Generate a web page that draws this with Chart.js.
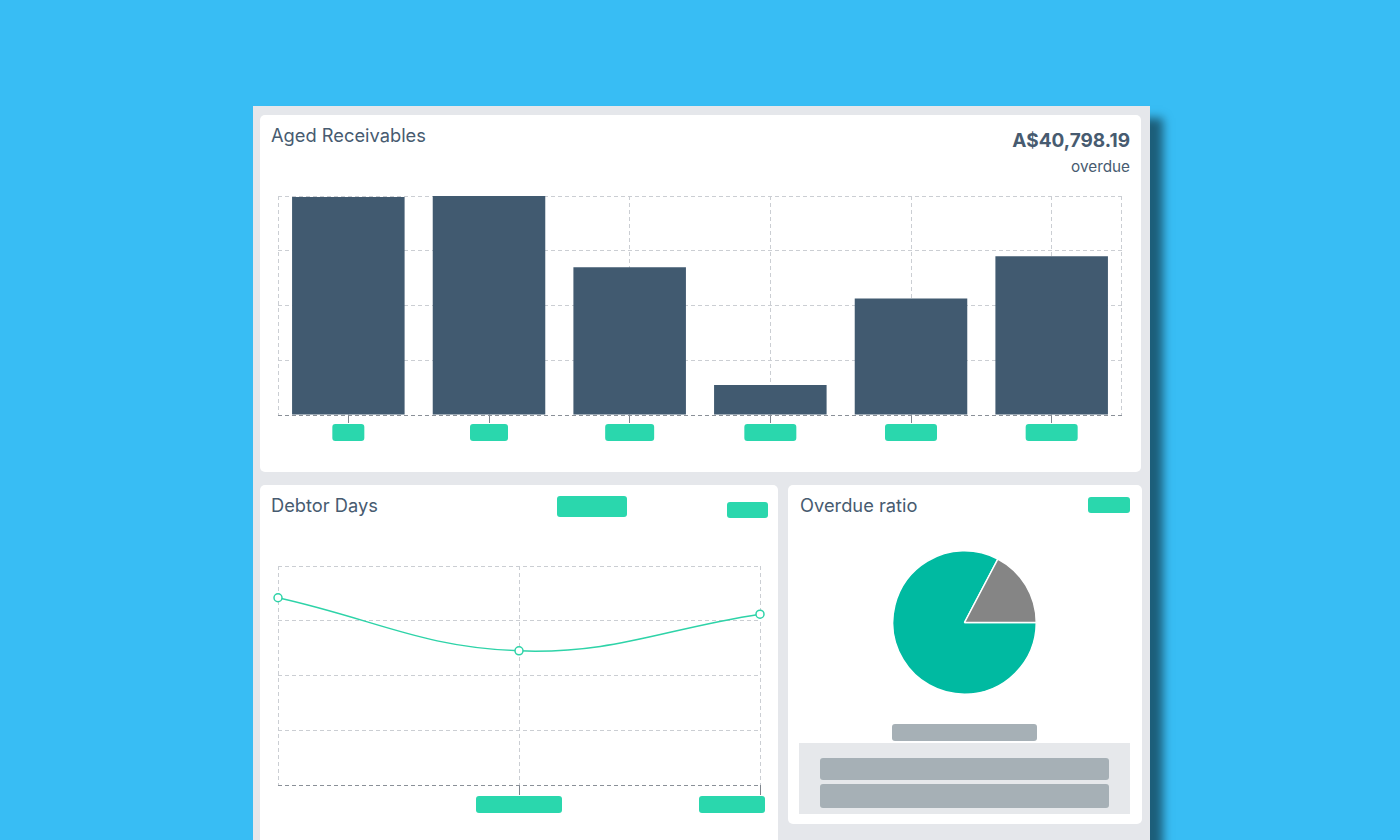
<!DOCTYPE html>
<html>
<head>
<meta charset="utf-8">
<script src="https://cdn.jsdelivr.net/npm/chart.js@4.4.1/dist/chart.umd.min.js"></script>
<style>
html,body{margin:0;padding:0;}
body{width:1400px;height:840px;background:#38BDF4;position:relative;overflow:hidden;font-family:Inter,"Liberation Sans",sans-serif;color:#475B70;}
#panel{position:absolute;left:253px;top:106px;width:897px;height:780px;background:#E5E7EB;box-shadow:13px 12px 9px rgba(0,0,0,0.5);}
.card{position:absolute;background:#fff;border-radius:5px;}
.title{position:absolute;font-size:18.3px;line-height:18px;white-space:nowrap;}
.ph{position:absolute;background:#2AD7AD;border-radius:3px;}
.gr{position:absolute;background:#A6B0B6;border-radius:3px;}
canvas{position:absolute;}
</style>
</head>
<body>
<div id="panel"></div>
<div class="card" style="left:260px;top:115px;width:881px;height:357px;"></div>
<div class="card" style="left:260px;top:485px;width:518px;height:400px;"></div>
<div class="card" style="left:788px;top:485px;width:354px;height:339px;"></div>

<div class="title" style="left:271px;top:126px;">Aged Receivables</div>
<div class="title" style="right:270px;top:132px;font-weight:700;font-size:19px;">A$40,798.19</div>
<div class="title" style="right:270px;top:159px;font-size:15.3px;line-height:15px;">overdue</div>

<div class="title" style="left:271px;top:496px;">Debtor Days</div>
<div class="ph" style="left:557px;top:496px;width:70px;height:21px;"></div>
<div class="ph" style="left:727px;top:502px;width:41px;height:16px;"></div>

<div class="title" style="left:800px;top:496px;">Overdue ratio</div>
<div class="ph" style="left:1088px;top:497px;width:42px;height:16px;"></div>

<div class="gr" style="left:892px;top:724px;width:145px;height:17px;"></div>
<div style="position:absolute;left:799px;top:743px;width:331px;height:71px;background:#E6E8EB;"></div>
<div class="gr" style="left:820px;top:758px;width:289px;height:22px;"></div>
<div class="gr" style="left:820px;top:784px;width:289px;height:24px;"></div>

<canvas id="bar" width="864" height="277" style="left:268px;top:186px;"></canvas>
<canvas id="line" width="502" height="279" style="left:268px;top:556px;"></canvas>
<canvas id="pie" width="145" height="145" style="left:892px;top:550px;"></canvas>

<script>
// ---- data ----
const barCategories = ['Current', '< 1 month', '1 month', '2 months', '3 months', 'Older'];
const barValues = [39.8, 40.0, 27.0, 5.5, 21.3, 29.0];
const barYTicks = [0, 10, 20, 30, 40];

const lineCategories = ['Period 1', 'Period 2', 'Period 3'];
const lineValues = [34.2, 24.5, 31.2];
const lineYTicks = [0, 10, 20, 30, 40];

const pieLabels = ['Current', 'Overdue'];
const pieValues = [82.7, 17.3];

// ---- styles ----
const GRID = '#CBCED3';
const AXIS = '#8A9098';
const TICK = '#7E858D';
const DASH = [4, 3];

function roundRect(ctx, x, y, w, h, r) {
  ctx.beginPath();
  ctx.moveTo(x + r, y);
  ctx.lineTo(x + w - r, y);
  ctx.quadraticCurveTo(x + w, y, x + w, y + r);
  ctx.lineTo(x + w, y + h - r);
  ctx.quadraticCurveTo(x + w, y + h, x + w - r, y + h);
  ctx.lineTo(x + r, y + h);
  ctx.quadraticCurveTo(x, y + h, x, y + h - r);
  ctx.lineTo(x, y + r);
  ctx.quadraticCurveTo(x, y, x + r, y);
  ctx.closePath();
  ctx.fill();
}

const placeholderTicks = {
  id: 'placeholderTicks',
  afterDraw(chart, args, opts) {
    const sc = chart.scales.x, ctx = chart.ctx, ca = chart.chartArea;
    ctx.save();
    ctx.fillStyle = opts.color;
    opts.widths.forEach((w, i) => {
      if (!w) return;
      const cx = sc.getPixelForTick(i);
      let left = cx - w / 2;
      const maxRight = ca.right + opts.overhang;
      if (left + w > maxRight) left = maxRight - w;
      roundRect(ctx, left, ca.bottom + opts.offset, w, opts.height, 3);
    });
    ctx.restore();
  }
};

const frame = {
  id: 'frame',
  beforeDatasetsDraw(chart) {
    const ctx = chart.ctx, ca = chart.chartArea;
    ctx.save();
    ctx.strokeStyle = GRID; ctx.lineWidth = 1; ctx.setLineDash(DASH);
    ctx.beginPath();
    ctx.moveTo(Math.round(ca.left) + 0.5, ca.top); ctx.lineTo(Math.round(ca.left) + 0.5, ca.bottom);
    ctx.moveTo(Math.round(ca.right) - 0.5, ca.top); ctx.lineTo(Math.round(ca.right) - 0.5, ca.bottom);
    ctx.stroke();
    ctx.restore();
  },
  afterDatasetsDraw(chart) {
    const ctx = chart.ctx, ca = chart.chartArea;
    const y = Math.round(chart.scales.y.getPixelForValue(0)) + 0.5;
    ctx.save();
    ctx.strokeStyle = AXIS; ctx.lineWidth = 1; ctx.setLineDash(DASH);
    ctx.beginPath(); ctx.moveTo(ca.left, y); ctx.lineTo(ca.right, y); ctx.stroke();
    ctx.restore();
  }
};

// ---- bar chart ----
new Chart(document.getElementById('bar'), {
  type: 'bar',
  data: {
    labels: barCategories,
    datasets: [{ data: barValues, backgroundColor: '#415A70', categoryPercentage: 1, barPercentage: 0.8 }]
  },
  options: {
    responsive: false, animation: false,
    layout: { padding: { left: 10, right: 10, top: 10, bottom: 40 } },
    plugins: {
      legend: { display: false }, tooltip: { enabled: false },
      placeholderTicks: { widths: [32, 38, 49, 52, 52, 52], height: 17, offset: 9, overhang: 5, color: '#2AD7AD' }
    },
    scales: {
      x: {
        grid: { offset: false, color: GRID, tickColor: TICK, tickLength: 8, tickBorderDash: [] },
        border: { display: false, dash: DASH },
        ticks: { display: false }
      },
      y: {
        min: barYTicks[0], max: barYTicks[barYTicks.length - 1],
        afterBuildTicks: s => { s.ticks = barYTicks.map(v => ({ value: v })); },
        grid: { color: c => c.tick && c.tick.value === 0 ? AXIS : GRID, drawTicks: false },
        border: { display: false, dash: DASH },
        ticks: { display: false }
      }
    }
  },
  plugins: [frame, placeholderTicks]
});

// ---- line chart ----
new Chart(document.getElementById('line'), {
  type: 'line',
  data: {
    labels: lineCategories,
    datasets: [{
      data: lineValues, borderColor: '#2ED3A8', borderWidth: 1.5, tension: 0.4, fill: false,
      pointRadius: 4, pointBackgroundColor: '#ffffff', pointBorderColor: '#2ED3A8', pointBorderWidth: 1.5,
      clip: false
    }]
  },
  options: {
    responsive: false, animation: false,
    layout: { padding: { left: 10, right: 10, top: 10, bottom: 40 } },
    plugins: {
      legend: { display: false }, tooltip: { enabled: false },
      placeholderTicks: { widths: [0, 86, 66], height: 17, offset: 11, overhang: 5, color: '#2AD7AD' }
    },
    scales: {
      x: {
        grid: { color: GRID, tickColor: c => c.index === 0 ? 'rgba(0,0,0,0)' : TICK, tickLength: 10, tickBorderDash: [] },
        border: { display: false, dash: DASH },
        ticks: { display: false }
      },
      y: {
        min: lineYTicks[0], max: lineYTicks[lineYTicks.length - 1],
        afterBuildTicks: s => { s.ticks = lineYTicks.map(v => ({ value: v })); },
        grid: { color: c => c.tick && c.tick.value === 0 ? AXIS : GRID, drawTicks: false },
        border: { display: false, dash: DASH },
        ticks: { display: false }
      }
    }
  },
  plugins: [placeholderTicks]
});

// ---- pie chart ----
new Chart(document.getElementById('pie'), {
  type: 'pie',
  data: {
    labels: pieLabels,
    datasets: [{ data: pieValues, backgroundColor: ['#00BAA1', '#858585'], borderColor: '#ffffff', borderWidth: 1.5 }]
  },
  options: {
    responsive: false, animation: false, rotation: 90,
    plugins: { legend: { display: false }, tooltip: { enabled: false } }
  }
});
</script>
</body>
</html>
